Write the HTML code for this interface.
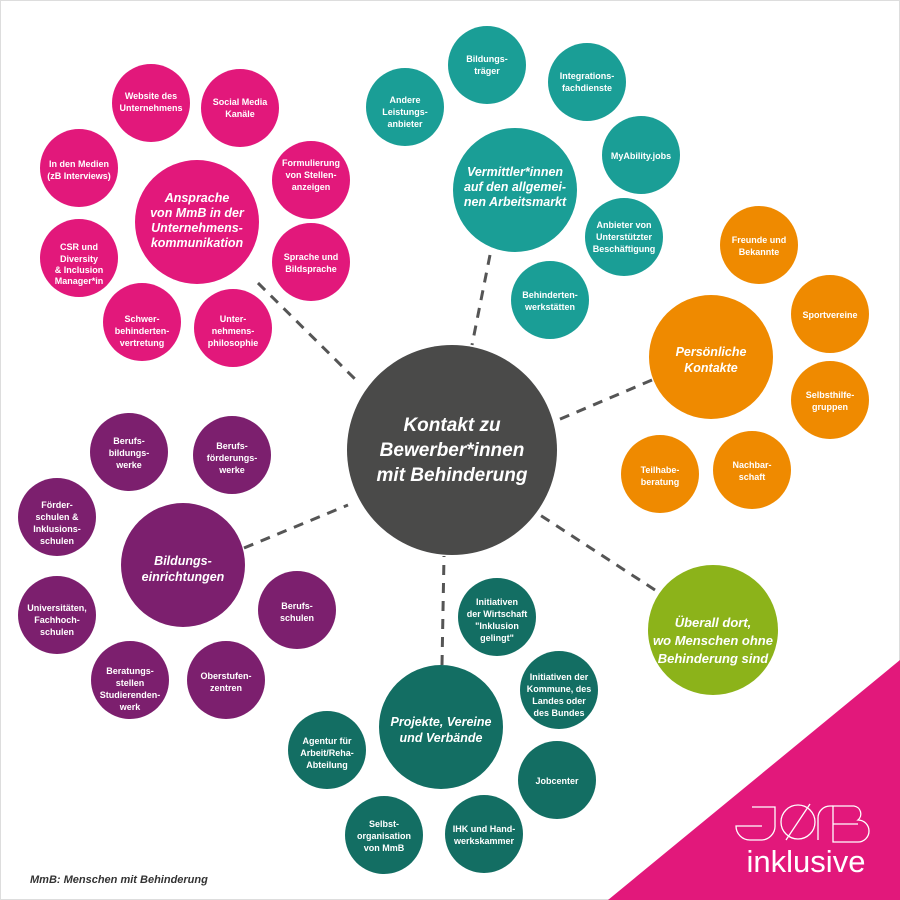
<!DOCTYPE html>
<html><head><meta charset="utf-8"><style>
html,body{margin:0;padding:0;background:#fff}
svg{display:block}
text{font-family:"Liberation Sans",sans-serif;font-weight:bold;fill:#fff;text-anchor:middle}
.s{font-size:9px}
.m{font-size:12.5px;font-style:italic}
</style></head><body>
<svg width="900" height="900" viewBox="0 0 900 900" xmlns="http://www.w3.org/2000/svg">
<rect x="0.5" y="0.5" width="899" height="899" fill="#fff" stroke="#ddd"/>
<polygon points="900,660 900,900 608,900" fill="#e2187b"/>
<g stroke="#555" stroke-width="3" stroke-dasharray="10,8" fill="none">
<line x1="258" y1="283" x2="358" y2="382"/>
<line x1="490" y1="255" x2="472" y2="345"/>
<line x1="652" y1="380" x2="558" y2="420"/>
<line x1="244" y1="548" x2="348" y2="505"/>
<line x1="442" y1="665" x2="444" y2="556"/>
<line x1="655" y1="590" x2="540" y2="515"/>
</g>
<circle cx="452" cy="450" r="105" fill="#4a4a49"/>
<text style="font-size:19px;font-style:italic"><tspan x="452" y="431">Kontakt zu</tspan><tspan x="452" y="456">Bewerber*innen</tspan><tspan x="452" y="481">mit Behinderung</tspan></text>

<g fill="#e2187b">
<circle cx="197" cy="222" r="62"/>
<circle cx="151" cy="103" r="39"/><circle cx="240" cy="108" r="39"/>
<circle cx="79" cy="168" r="39"/><circle cx="311" cy="180" r="39"/>
<circle cx="79" cy="258" r="39"/><circle cx="311" cy="262" r="39"/>
<circle cx="142" cy="322" r="39"/><circle cx="233" cy="328" r="39"/>
</g>
<text class="m"><tspan x="197" y="202">Ansprache</tspan><tspan x="197" y="217">von MmB in der</tspan><tspan x="197" y="232">Unternehmens-</tspan><tspan x="197" y="247">kommunikation</tspan></text>
<text class="s"><tspan x="151" y="99">Website des</tspan><tspan x="151" y="111">Unternehmens</tspan></text>
<text class="s"><tspan x="240" y="105">Social Media</tspan><tspan x="240" y="117">Kanäle</tspan></text>
<text class="s"><tspan x="79" y="167">In den Medien</tspan><tspan x="79" y="179">(zB Interviews)</tspan></text>
<text class="s"><tspan x="311" y="166">Formulierung</tspan><tspan x="311" y="178">von Stellen-</tspan><tspan x="311" y="190">anzeigen</tspan></text>
<text class="s"><tspan x="79" y="250">CSR und</tspan><tspan x="79" y="262">Diversity</tspan><tspan x="79" y="273">&amp; Inclusion</tspan><tspan x="79" y="284">Manager*in</tspan></text>
<text class="s"><tspan x="311" y="260">Sprache und</tspan><tspan x="311" y="272">Bildsprache</tspan></text>
<text class="s"><tspan x="142" y="322">Schwer-</tspan><tspan x="142" y="334">behinderten-</tspan><tspan x="142" y="346">vertretung</tspan></text>
<text class="s"><tspan x="233" y="322">Unter-</tspan><tspan x="233" y="334">nehmens-</tspan><tspan x="233" y="346">philosophie</tspan></text>

<g fill="#1a9e96">
<circle cx="515" cy="190" r="62"/>
<circle cx="405" cy="107" r="39"/><circle cx="487" cy="65" r="39"/>
<circle cx="587" cy="82" r="39"/><circle cx="641" cy="155" r="39"/>
<circle cx="624" cy="237" r="39"/><circle cx="550" cy="300" r="39"/>
</g>
<text class="m"><tspan x="515" y="176">Vermittler*innen</tspan><tspan x="515" y="191">auf den allgemei-</tspan><tspan x="515" y="206">nen Arbeitsmarkt</tspan></text>
<text class="s"><tspan x="405" y="103">Andere</tspan><tspan x="405" y="115">Leistungs-</tspan><tspan x="405" y="127">anbieter</tspan></text>
<text class="s"><tspan x="487" y="62">Bildungs-</tspan><tspan x="487" y="74">träger</tspan></text>
<text class="s"><tspan x="587" y="79">Integrations-</tspan><tspan x="587" y="91">fachdienste</tspan></text>
<text class="s"><tspan x="641" y="159">MyAbility.jobs</tspan></text>
<text class="s"><tspan x="624" y="228">Anbieter von</tspan><tspan x="624" y="240">Unterstützter</tspan><tspan x="624" y="252">Beschäftigung</tspan></text>
<text class="s"><tspan x="550" y="298">Behinderten-</tspan><tspan x="550" y="310">werkstätten</tspan></text>

<g fill="#ef8a00">
<circle cx="711" cy="357" r="62"/>
<circle cx="759" cy="245" r="39"/><circle cx="830" cy="314" r="39"/>
<circle cx="830" cy="400" r="39"/><circle cx="752" cy="470" r="39"/>
<circle cx="660" cy="474" r="39"/>
</g>
<text class="m"><tspan x="711" y="356">Persönliche</tspan><tspan x="711" y="372">Kontakte</tspan></text>
<text class="s"><tspan x="759" y="243">Freunde und</tspan><tspan x="759" y="255">Bekannte</tspan></text>
<text class="s"><tspan x="830" y="318">Sportvereine</tspan></text>
<text class="s"><tspan x="830" y="398">Selbsthilfe-</tspan><tspan x="830" y="410">gruppen</tspan></text>
<text class="s"><tspan x="752" y="468">Nachbar-</tspan><tspan x="752" y="480">schaft</tspan></text>
<text class="s"><tspan x="660" y="473">Teilhabe-</tspan><tspan x="660" y="485">beratung</tspan></text>

<g fill="#7c1f6e">
<circle cx="183" cy="565" r="62"/>
<circle cx="129" cy="452" r="39"/><circle cx="232" cy="455" r="39"/>
<circle cx="57" cy="517" r="39"/><circle cx="57" cy="615" r="39"/>
<circle cx="130" cy="680" r="39"/><circle cx="226" cy="680" r="39"/>
<circle cx="297" cy="610" r="39"/>
</g>
<text class="m"><tspan x="183" y="565">Bildungs-</tspan><tspan x="183" y="581">einrichtungen</tspan></text>
<text class="s"><tspan x="129" y="444">Berufs-</tspan><tspan x="129" y="456">bildungs-</tspan><tspan x="129" y="468">werke</tspan></text>
<text class="s"><tspan x="232" y="449">Berufs-</tspan><tspan x="232" y="461">förderungs-</tspan><tspan x="232" y="473">werke</tspan></text>
<text class="s"><tspan x="57" y="508">Förder-</tspan><tspan x="57" y="520">schulen &amp;</tspan><tspan x="57" y="532">Inklusions-</tspan><tspan x="57" y="544">schulen</tspan></text>
<text class="s"><tspan x="57" y="611">Universitäten,</tspan><tspan x="57" y="623">Fachhoch-</tspan><tspan x="57" y="635">schulen</tspan></text>
<text class="s"><tspan x="130" y="674">Beratungs-</tspan><tspan x="130" y="686">stellen</tspan><tspan x="130" y="698">Studierenden-</tspan><tspan x="130" y="710">werk</tspan></text>
<text class="s"><tspan x="226" y="679">Oberstufen-</tspan><tspan x="226" y="691">zentren</tspan></text>
<text class="s"><tspan x="297" y="609">Berufs-</tspan><tspan x="297" y="621">schulen</tspan></text>

<g fill="#136e63">
<circle cx="441" cy="727" r="62"/>
<circle cx="497" cy="617" r="39"/><circle cx="559" cy="690" r="39"/>
<circle cx="557" cy="780" r="39"/><circle cx="484" cy="834" r="39"/>
<circle cx="384" cy="835" r="39"/><circle cx="327" cy="750" r="39"/>
</g>
<text class="m"><tspan x="441" y="726">Projekte, Vereine</tspan><tspan x="441" y="742">und Verbände</tspan></text>
<text class="s"><tspan x="497" y="605">Initiativen</tspan><tspan x="497" y="617">der Wirtschaft</tspan><tspan x="497" y="629">"Inklusion</tspan><tspan x="497" y="641">gelingt"</tspan></text>
<text class="s"><tspan x="559" y="680">Initiativen der</tspan><tspan x="559" y="692">Kommune, des</tspan><tspan x="559" y="704">Landes oder</tspan><tspan x="559" y="716">des Bundes</tspan></text>
<text class="s"><tspan x="557" y="784">Jobcenter</tspan></text>
<text class="s"><tspan x="484" y="832">IHK und Hand-</tspan><tspan x="484" y="844">werkskammer</tspan></text>
<text class="s"><tspan x="384" y="827">Selbst-</tspan><tspan x="384" y="839">organisation</tspan><tspan x="384" y="851">von MmB</tspan></text>
<text class="s"><tspan x="327" y="744">Agentur für</tspan><tspan x="327" y="756">Arbeit/Reha-</tspan><tspan x="327" y="768">Abteilung</tspan></text>

<circle cx="713" cy="630" r="65" fill="#8cb31a"/>
<text style="font-size:13px;font-style:italic"><tspan x="713" y="627">Überall dort,</tspan><tspan x="713" y="645">wo Menschen ohne</tspan><tspan x="713" y="663">Behinderung sind</tspan></text>

<text x="30" y="883" style="font-size:11px;font-style:italic;fill:#333;text-anchor:start">MmB: Menschen mit Behinderung</text>

<g fill="none" stroke="#fff" stroke-width="1.3">
<path d="M752 807 H775 V825 A14 14 0 0 1 761 840 H750 A14 14 0 0 1 736 826 H762"/>
<circle cx="798" cy="822" r="17"/><line x1="786" y1="840" x2="810" y2="804"/>
<path d="M818 840 V818 A12 12 0 0 1 830 806 H833"/>
<path d="M833 806 V842 H858 A11 11 0 0 0 858 820 A8 8 0 0 0 854 806 Z M833 824 H858"/>
</g>
<text x="806" y="872" style="font-size:31px;font-weight:normal;fill:#fff">inklusive</text>
</svg>
</body></html>
